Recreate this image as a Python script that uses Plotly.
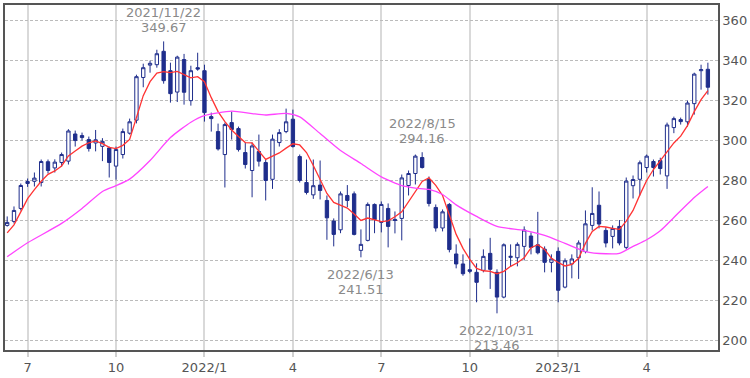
import plotly.graph_objects as go
import pandas as pd

# Weekly candles, first week 2021-06-14, 104 weeks
week_dates = pd.date_range("2021-06-14", periods=104, freq="7D")

opens = [257.5, 259.5, 266, 278.5, 279.6, 279, 289.4, 286.3, 289, 289.7,
         303.3, 302.5, 300.5, 298.8, 297.1, 296.3, 287.2, 293, 303.7, 310.2,
         331.6, 337.8, 338, 344.7, 335, 324.3, 340.6, 320, 336.5, 335,
         312, 304.5, 293, 309, 306, 294, 285, 294.5, 289, 280.6,
         299, 304.5, 310.7, 292, 279, 272.8, 277.7, 270, 259.7, 255.3,
         272.5, 273.3, 245, 250, 268, 259, 266, 260.5, 261, 277.5,
         283.5, 291.5, 280.5, 266.5, 256.2, 268, 243.2, 238.2, 235.3, 234,
         235, 243.5, 234, 221.6, 241.5, 241.3, 247, 252.2, 247.8, 245.6,
         239, 244.5, 226.6, 238.2, 241.3, 244.4, 257.5, 267.6, 255, 252,
         257, 246.5, 277.4, 280.6, 286.5, 289.5, 290, 282.3, 306.5, 310.5,
         309.4, 318.5, 335, 335.7]
highs = [262, 267, 278.5, 281, 284, 290.5, 290.5, 290.6, 294, 305.7,
         305, 304, 302, 305.3, 301.2, 297, 297, 306, 311, 333,
         338.5, 340, 345.5, 349.67, 339, 342.5, 343.4, 337.5, 344, 338,
         314, 308.5, 309, 314.5, 307, 299, 299, 303, 290.5, 303,
         305.7, 316, 315.5, 293, 290.5, 290.5, 290, 272.5, 261, 274.5,
         277.7, 274.5, 255.5, 269, 268.5, 269.5, 268.5, 264.5, 283, 285,
         293, 294.16, 282, 268, 265.5, 268.7, 248, 243, 251, 238.5,
         245.5, 251.3, 235.5, 248.5, 248, 249, 257, 254, 264.3, 247,
         243, 246.5, 241, 243, 250, 265, 276.6, 274.5, 256.5, 257.5,
         260.2, 281.5, 282.5, 290, 293, 290.5, 291.4, 309, 312, 311.5,
         320, 334, 338, 339]
lows = [256.9, 258.5, 265, 276.8, 277, 277, 283.5, 284, 287, 288,
        297, 300, 294.5, 294.6, 289.7, 281.5, 280.4, 291, 303, 308.6,
        326.7, 334, 336.5, 328.5, 319, 319.3, 318, 317.5, 335, 309.5,
        304.5, 295, 276.5, 300.5, 294.5, 286, 271.6, 287, 270, 275.8,
        297, 303.7, 296.5, 279, 273, 270.8, 270.5, 250.3, 247, 253.6,
        266.7, 252.5, 241.51, 249.5, 253.6, 254, 246.5, 253.5, 250, 272.5,
        278, 286, 267, 254.4, 254.5, 244, 236, 232.3, 233.5, 219,
        234, 225.7, 213.46, 221, 237, 237, 240, 243, 243, 234,
        234, 219, 226, 231, 230.7, 243.5, 255, 256, 246.5, 246,
        247.5, 245.5, 271, 272.5, 284, 282, 283, 275.8, 303.7, 308,
        307, 313, 325.5, 323]
closes = [259, 265, 277.5, 279.5, 281.2, 289.5, 285, 289.2, 293, 304.8,
          300, 301.5, 296, 300.4, 299.6, 289, 295.5, 304.5, 309.4, 332,
          336.5, 338.7, 343.5, 330, 323.5, 341.8, 324.2, 335, 335.8, 314,
          311, 295.8, 308, 305.5, 295.5, 288, 297.3, 289.7, 280, 300.7,
          304, 309.4, 297, 280, 274, 277.4, 275, 261.3, 253, 273.3,
          270, 253, 248, 268, 260.4, 268, 257, 260, 281.3, 283.5,
          292.2, 286.5, 268.5, 256.2, 264.3, 245.4, 238.2, 233.3, 234.5, 229,
          242, 235.5, 221.6, 247.8, 242, 248, 255.2, 246.5, 243.8, 239,
          240.7, 225, 239.8, 240.7, 248.7, 258.3, 263.5, 258.2, 248.7, 256,
          248.7, 279.7, 280.5, 288.9, 292.2, 286.5, 286, 307.8, 311, 309.5,
          318.8, 333.3, 335.5, 326.7]

# Short moving average (red), read week by week
ma_short = [253.8, 257.8, 264.3, 270.9, 275.4, 279.6, 283.1, 284.8, 287.3, 292.3,
            294.8, 297.2, 298.9, 299.8, 298.5, 296.6, 296, 297.6, 300.6, 311.5,
            322.5, 329.5, 333.8, 334.5, 334, 334.6, 333, 331.4, 332, 329.5,
            321.5, 314.5, 309.5, 305.3, 302, 299, 298.8, 294.8, 290.6, 292.2,
            293.8, 296.2, 298.4, 297.8, 294, 287.5, 280.5, 273.5, 269, 267.6,
            266.2, 263.2, 260, 261.2, 260.3, 259.4, 259.8, 261.8, 264.3, 269.3,
            274.5, 279.5, 281.4, 277.6, 272.5, 263, 253, 246, 240.5, 236,
            234.8, 234.5, 233.3, 234.5, 237, 238.8, 241.3, 246.3, 247.8, 245.5,
            241, 238.9, 237.2, 238, 241, 248.5, 254.5, 257, 256.7, 256,
            255.5, 259.6, 265, 272.8, 280, 285.5, 290, 294.8, 298.8, 302.2,
            307.5, 314.5, 320.5, 325]

# Long moving average (magenta), read at selected weeks
ma_long_week = [0, 3, 8, 11, 14, 16, 18, 21, 24, 27, 29, 33, 36, 38, 41, 43, 46, 49,
                52, 55, 58, 60, 62, 64, 66, 69, 72, 76, 79, 82, 85, 88, 90, 92,
                94, 96, 98, 101, 103]
ma_long = [241.8, 248.8, 258.5, 266, 274.5, 277.4, 280.7, 290, 301.5, 309.2, 312.5,
           314.7, 313.5, 312.8, 313.6, 311.9, 303.5, 295, 288.5, 281.8, 277.4,
           276.2, 275.5, 273, 267.8, 262, 257, 255, 252.5, 248.5, 244.4, 243.3,
           243.5, 247, 250.3, 254.8, 261.5, 271.5, 277]

tick_dates = ["2021-07-05", "2021-10-04", "2022-01-03", "2022-04-04",
              "2022-07-04", "2022-10-03", "2023-01-02", "2023-04-03"]
tick_text = ["7", "10", "2022/1", "4", "7", "10", "2023/1", "4"]
y_ticks = [200, 220, 240, 260, 280, 300, 320, 340, 360]

# Marked extremes: (week index, date label, value label)
marks_high = [(23, "2021/11/22", "349.67"), (61, "2022/8/15", "294.16")]
marks_low = [(52, "2022/6/13", "241.51"), (72, "2022/10/31", "213.46")]

navy = "#1f2e8c"
font_family = "DejaVu Sans, Verdana, sans-serif"
label_font = dict(family=font_family, size=13, color="#8a8a8a")

fig = go.Figure()
fig.add_trace(go.Candlestick(
    x=week_dates, open=opens, high=highs, low=lows, close=closes,
    increasing=dict(line=dict(color=navy, width=1), fillcolor="white"),
    decreasing=dict(line=dict(color=navy, width=1), fillcolor=navy),
    whiskerwidth=0, showlegend=False, hoverinfo="skip",
))
fig.add_trace(go.Scatter(
    x=week_dates, y=ma_short, mode="lines",
    line=dict(color="#ff3333", width=1.3), showlegend=False, hoverinfo="skip",
))
fig.add_trace(go.Scatter(
    x=[week_dates[i] for i in ma_long_week], y=ma_long, mode="lines",
    line=dict(color="#ff44ff", width=1.3, shape="spline", smoothing=0.6),
    showlegend=False, hoverinfo="skip",
))

for i, d, v in marks_high:
    fig.add_annotation(x=week_dates[i], y=highs[i], text=v, showarrow=False,
                       yanchor="bottom", yshift=4, font=label_font)
    fig.add_annotation(x=week_dates[i], y=highs[i], text=d, showarrow=False,
                       yanchor="bottom", yshift=19, font=label_font)
for i, d, v in marks_low:
    fig.add_annotation(x=week_dates[i], y=lows[i], text=d, showarrow=False,
                       yanchor="top", yshift=-8, font=label_font)
    fig.add_annotation(x=week_dates[i], y=lows[i], text=v, showarrow=False,
                       yanchor="top", yshift=-23, font=label_font)

fig.update_layout(
    width=750, height=378,
    margin=dict(l=3, r=28, t=3, b=24),
    paper_bgcolor="white", plot_bgcolor="white",
    font=dict(family=font_family, size=13, color="#555555"),
    showlegend=False,
    xaxis=dict(
        type="date",
        range=["2021-06-11 18:00", "2023-06-15 10:00"],
        rangeslider=dict(visible=False),
        tickvals=tick_dates, ticktext=tick_text,
        showgrid=True, gridcolor="#d9d9d9", gridwidth=2,
        ticks="outside", ticklen=5, tickcolor="#d0d0d0", tickwidth=2,
        showline=True, mirror=True, linecolor="#555555", linewidth=1.5,
        zeroline=False, tickfont=dict(size=13, color="#555555"),
    ),
    yaxis=dict(
        side="right", range=[195.1, 367.9],
        tickvals=y_ticks,
        showgrid=True, gridcolor="#bbbbbb", gridwidth=1, griddash="3px,2px",
        showline=True, mirror=True, linecolor="#555555", linewidth=1.5,
        zeroline=False, ticks="", tickfont=dict(size=13, color="#555555"),
    ),
)

fig.write_html("out.html",
               config={"displayModeBar": False},
               post_script="document.body.style.margin='0';document.body.style.overflow='hidden';")
